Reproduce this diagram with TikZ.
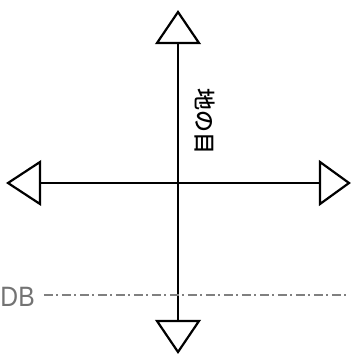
\documentclass[tikz,border=0pt]{standalone}
\usepackage{fontspec}
\setmainfont{Liberation Sans}
\newfontfamily\jpfont{Noto Sans CJK JP Medium}
\begin{document}
\begin{tikzpicture}[x=1pt,y=-1pt,
  axis/.style={line width=2.2pt,black},
  tri/.style={line width=2.2pt,black,line join=miter},
  dbline/.style={line width=1.6pt,color=black!50,dash pattern=on 9pt off 3.5pt on 2pt off 3.5pt},
  dblabel/.style={font=\fontsize{28}{28}\selectfont,text=black!55,inner sep=0pt,anchor=west,xscale=0.88},
  jplabel/.style={font=\jpfont\fontsize{22}{22}\selectfont,rotate=-90,inner sep=0pt}]
\useasboundingbox (0,0) rectangle (351,358);
\coordinate (C) at (178,183);
\coordinate (T) at (178,43);
\coordinate (B) at (178,321);
\coordinate (L) at (40,183);
\coordinate (R) at (320,183);
\draw[axis] (T) -- (B);
\draw[axis] (L) -- (R);
\draw[tri] (157,43) -- (178,12) -- (199,43) -- cycle;
\draw[tri] (157,321) -- (178,352) -- (199,321) -- cycle;
\draw[tri] (40,162) -- (8,183) -- (40,204) -- cycle;
\draw[tri] (320,162) -- (349,183) -- (320,204) -- cycle;
\node[dblabel] (db) at (0.3,297) {DB};
\coordinate (dbend) at (348,295);
\draw[dbline] (db.east) ++(9,-2) -- (dbend);
\node[jplabel] (jp) at (205,122) {地の目};
\end{tikzpicture}
\end{document}
